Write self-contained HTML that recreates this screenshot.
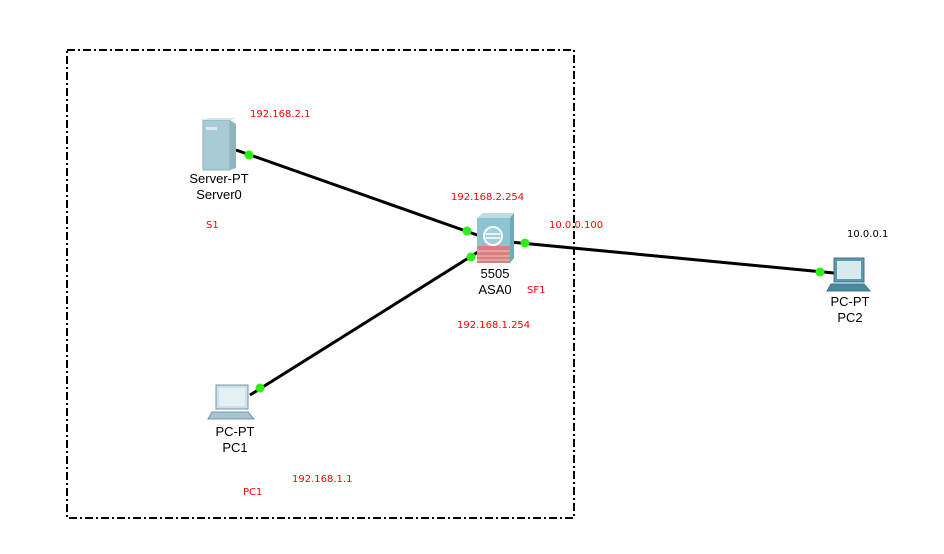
<!DOCTYPE html>
<html><head><style>body{margin:0;background:#fff}svg{display:block}</style></head><body>
<svg width="944" height="554" xmlns="http://www.w3.org/2000/svg" font-family="Liberation Sans, sans-serif">
<rect x="67" y="50" width="507" height="468" fill="none" stroke="#000" stroke-width="2" stroke-dasharray="8,3,2,3"/>
<g stroke="#000" stroke-width="3">
<line x1="236" y1="150" x2="480" y2="236"/>
<line x1="250" y1="395" x2="478" y2="252"/>
<line x1="510" y1="242" x2="834" y2="273"/>
</g>
<rect x="203" y="120" width="27" height="50" fill="#a9cbd6" stroke="#8fb0bb"/>
<polygon points="230,120 236,124 236,168 230,170" fill="#8fb3bf"/>
<polygon points="203,120 209,118 236,118 230,120" fill="#cfe3ea"/>
<rect x="206" y="127" width="11" height="3" fill="#d8e8ee"/>
<rect x="477" y="218" width="33" height="28" fill="#8ec3d2"/>
<polygon points="477,218 483,213 514,213 510,218" fill="#b9dde7"/>
<polygon points="510,218 514,213 514,258 510,263" fill="#6fa9ba"/>
<rect x="477" y="246" width="33" height="17" fill="#d98080"/>
<g stroke="#f2c0c0" stroke-width="1"><line x1="477" y1="251" x2="510" y2="251"/><line x1="477" y1="256" x2="510" y2="256"/><line x1="477" y1="260" x2="510" y2="260"/></g>
<circle cx="493" cy="236" r="9" fill="#9fd0de" stroke="#fff" stroke-width="2"/>
<line x1="486" y1="234" x2="500" y2="234" stroke="#fff" stroke-width="1.5"/><line x1="486" y1="238" x2="500" y2="238" stroke="#fff" stroke-width="1.5"/>
<rect x="216" y="385" width="32" height="24" fill="#cfe0e6" stroke="#6f98a8"/>
<rect x="219" y="388" width="26" height="18" fill="#e3f0f4"/>
<polygon points="212,412 248,412 254,419 208,419" fill="#a8c4ce" stroke="#6f98a8"/>
<rect x="834" y="258" width="30" height="24" fill="#5d98ad" stroke="#3f7589"/>
<rect x="837" y="261" width="24" height="18" fill="#d8e9ef"/>
<polygon points="831,284 864,284 870,291 827,291" fill="#4a8aa1" stroke="#3f7589"/>
<g fill="#2bef17"><circle cx="249" cy="155" r="4.5"/><circle cx="467" cy="231" r="4.5"/><circle cx="471" cy="257" r="4.5"/><circle cx="260" cy="388" r="4.5"/><circle cx="525" cy="243" r="4.5"/><circle cx="820" cy="272" r="4.5"/></g>
<g font-size="13" fill="#000" text-anchor="middle">
<text x="219" y="183">Server-PT</text><text x="219" y="199">Server0</text>
<text x="495" y="278">5505</text><text x="495" y="294">ASA0</text>
<text x="235" y="436">PC-PT</text><text x="235" y="452">PC1</text>
<text x="850" y="306">PC-PT</text><text x="850" y="322">PC2</text>
</g>
<g font-size="10" fill="#f00" font-family="DejaVu Sans, sans-serif">
<text x="250" y="117">192.168.2.1</text>
<text x="206" y="228">S1</text>
<text x="451" y="200">192.168.2.254</text>
<text x="549" y="228">10.0.0.100</text>
<text x="527" y="293">SF1</text>
<text x="457" y="328">192.168.1.254</text>
<text x="292" y="482">192.168.1.1</text>
<text x="243" y="495">PC1</text>
</g>
<text x="847" y="237" font-size="10" fill="#000" font-family="DejaVu Sans, sans-serif">10.0.0.1</text>
</svg>
</body></html>
